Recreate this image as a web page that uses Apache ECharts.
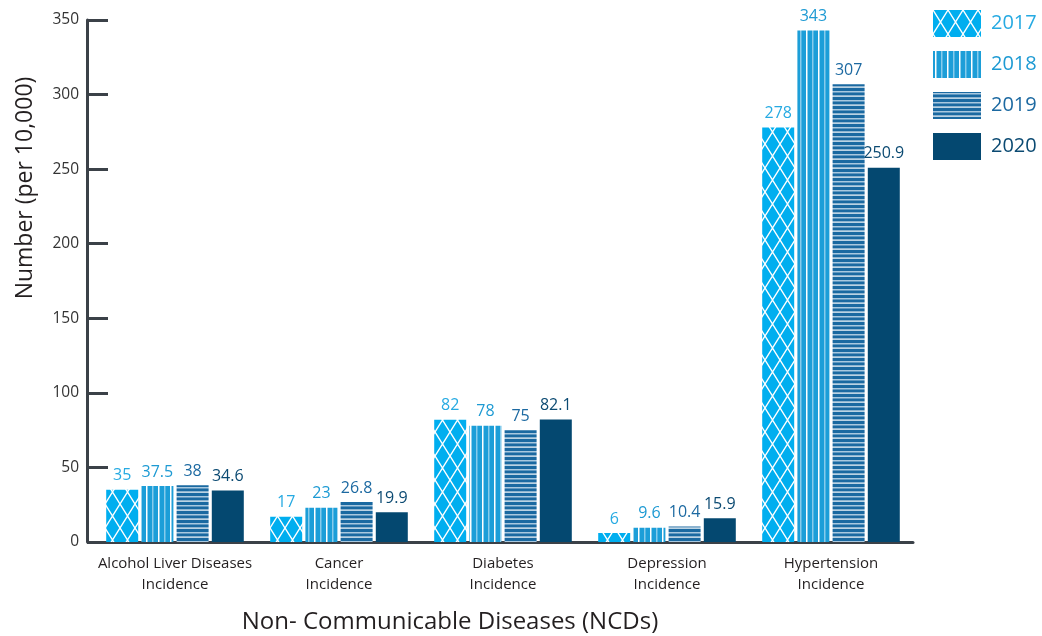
<!DOCTYPE html>
<html><head><meta charset="utf-8">
<script src="https://cdn.jsdelivr.net/npm/echarts@6/dist/echarts.min.js"></script>
<style>html,body{margin:0;padding:0;background:#fff}#c{width:1042px;height:636px}</style>
</head><body><div id="c"></div>
<script>
const categories = ['Alcohol Liver Diseases\nIncidence','Cancer\nIncidence','Diabetes\nIncidence','Depression\nIncidence','Hypertension\nIncidence'];
const years = ['2017','2018','2019','2020'];
const v2017 = [35, 17, 82, 6, 278];
const v2018 = [37.5, 23, 78, 9.6, 343];
const v2019 = [38, 26.8, 75, 10.4, 307];
const v2020 = [34.6, 19.9, 82.1, 15.9, 250.9];
const yTicks = {min:0, max:350, interval:50};

const FONT = 'Open Sans';
function pat(w,h,draw){const c=document.createElement('canvas');c.width=w;c.height=h;const g=c.getContext('2d');draw(g,w,h);return {image:c,repeat:'repeat'};}
const p2017 = pat(15,24,(g,w,h)=>{g.fillStyle='#00aeef';g.fillRect(0,0,w,h);g.strokeStyle='#ffffff';g.lineWidth=1.4;g.beginPath();g.moveTo(0,0);g.lineTo(w,h);g.moveTo(w,0);g.lineTo(0,h);g.stroke();});
const p2018 = pat(12,10,(g,w,h)=>{g.fillStyle='#1c9ed8';g.fillRect(0,0,w,h);g.fillStyle='#ffffff';g.fillRect(2,0,1.5,h);g.fillStyle='#86cbec';g.fillRect(8,0,1.5,h);});
const p2019 = pat(10,9,(g,w,h)=>{g.fillStyle='#1a69a1';g.fillRect(0,0,w,h);g.fillStyle='#a8c8df';g.fillRect(0,1,w,1.5);g.fillStyle='#ffffff';g.fillRect(0,5.5,w,1.2);});
const c2020 = '#044870';
const fills=[p2017,p2018,p2019,c2020];
const labelColors=['#26aae2','#1d9ad3','#1c69a1','#0b4a72'];
const values=[v2017,v2018,v2019,v2020];

const chart = echarts.init(document.getElementById('c'));
chart.setOption({
  animation:false,
  textStyle:{fontFamily:FONT},
  grid:{left:93,right:129,top:20,bottom:94},
  legend:{orient:'vertical',left:933,top:10,padding:0,itemWidth:48,itemHeight:27,itemGap:14,icon:'rect',
    data:years.map((y,i)=>({name:y,textStyle:{color:labelColors[i],fontSize:20,fontFamily:FONT,padding:[0,0,0,5]}}))},
  xAxis:{type:'category',data:categories,
    axisLine:{lineStyle:{color:'#3b4148',width:3}},axisTick:{show:false},
    axisLabel:{interval:0,color:'#231f20',fontSize:15,lineHeight:21,margin:11,fontFamily:FONT}},
  yAxis:{type:'value',min:yTicks.min,max:yTicks.max,interval:yTicks.interval,offset:6,
    axisLine:{show:true,lineStyle:{color:'#3b4148',width:3}},
    axisTick:{show:true,inside:true,length:21,lineStyle:{color:'#3b4148',width:3}},
    splitLine:{show:false},
    axisLabel:{color:'#333',fontSize:15.5,margin:8,fontFamily:FONT}},
  graphic:[
    {type:'text',x:25,y:188,rotation:Math.PI/2,style:{text:'Number (per 10,000)',fill:'#231f20',font:'23px "'+FONT+'"',align:'center',verticalAlign:'middle'}},
    {type:'text',x:450,y:622,style:{text:'Non- Communicable Diseases (NCDs)',fill:'#231f20',font:'24px "'+FONT+'"',align:'center',verticalAlign:'middle'}}
  ],
  series:years.map((y,i)=>({
    name:y,type:'bar',data:values[i],barWidth:32,barGap:'10%',
    itemStyle:{color:fills[i]},
    label:{show:true,position:'top',distance:6,color:labelColors[i],fontSize:16,fontFamily:FONT}
  }))
});
</script></body></html>
